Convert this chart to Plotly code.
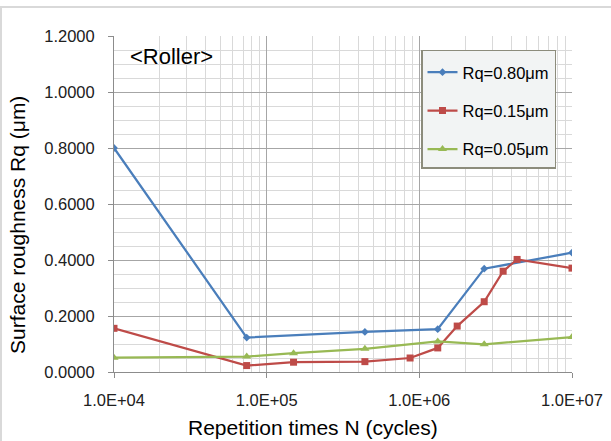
import plotly.graph_objects as go

# ---- data ----
n_080 = [1.0e4, 7.4e4, 4.4e5, 1.32e6, 2.66e6, 1.0e7]
rq_080 = [0.800, 0.123, 0.143, 0.153, 0.369, 0.426]

n_015 = [1.0e4, 7.4e4, 1.5e5, 4.4e5, 8.7e5, 1.32e6, 1.77e6, 2.66e6, 3.54e6, 4.37e6, 1.0e7]
rq_015 = [0.156, 0.023, 0.035, 0.037, 0.050, 0.086, 0.164, 0.251, 0.360, 0.402, 0.371]

n_005 = [1.0e4, 7.4e4, 1.5e5, 4.4e5, 1.32e6, 2.66e6, 1.0e7]
rq_005 = [0.051, 0.055, 0.067, 0.083, 0.109, 0.099, 0.125]

series_names = ["Rq=0.80μm", "Rq=0.15μm", "Rq=0.05μm"]
x_tickvals = [1e4, 1e5, 1e6, 1e7]
x_ticktext = ["1.0E+04", "1.0E+05", "1.0E+06", "1.0E+07"]

FONT = "Liberation Sans, Arial, sans-serif"
W, H = 611, 441
L, R, T, B = 114, 39, 36, 69
PW, PH = W - L - R, H - T - B


def px(x):
    return (x - L) / PW


def py(y):
    return (H - B - y) / PH


fig = go.Figure()
styles = [
    ("#4a7ebb", "diamond", 6),
    ("#be4b48", "square", 7),
    ("#98b954", "triangle-up", 8),
]
for i, (xs, ys) in enumerate([(n_080, rq_080), (n_015, rq_015), (n_005, rq_005)]):
    c, sym, sz = styles[i]
    fig.add_trace(go.Scatter(
        x=xs, y=ys, name=series_names[i], mode="lines+markers",
        legendgroup=f"g{i}",
        line=dict(color=c, width=2.25),
        marker=dict(color=c, symbol=sym, size=sz),
    ))

fig.update_layout(
    width=W, height=H,
    margin=dict(l=L, r=R, t=T, b=B, autoexpand=False),
    paper_bgcolor="white", plot_bgcolor="white",
    font=dict(family=FONT, color="#000000"),
    showlegend=True,
    legend=dict(
        x=px(421), y=py(49.5), xanchor="left", yanchor="top",
        bgcolor="#f2f4f4", bordercolor="#8c8c7c", borderwidth=1.5,
        font=dict(size=16.5, family=FONT, color="#000000"),
        title=dict(text=" ", font=dict(size=3)),
        tracegroupgap=14, itemwidth=30,
    ),
    xaxis=dict(
        type="log", range=[4, 7], automargin=False,
        tickvals=x_tickvals, ticktext=x_ticktext,
        tickfont=dict(size=16.5, color="#202020"),
        ticklabelstandoff=8,
        showgrid=True, gridcolor="#a6a6a6", gridwidth=1,
        minor=dict(dtick="D1", showgrid=True, gridcolor="#d9d9d9", ticks=""),
        showline=True, linecolor="#8c8c8c", linewidth=1,
        ticks="outside", ticklen=5, tickcolor="#8c8c8c",
        zeroline=False,
    ),
    yaxis=dict(
        range=[0, 1.2], dtick=0.2, tickformat=".4f", automargin=False,
        tickfont=dict(size=16.5, color="#202020"),
        ticklabelstandoff=10,
        showgrid=True, gridcolor="#a6a6a6", gridwidth=1,
        minor=dict(dtick=0.05, showgrid=True, gridcolor="#d9d9d9", ticks=""),
        showline=True, linecolor="#8c8c8c", linewidth=1,
        ticks="outside", ticklen=5, tickcolor="#8c8c8c",
        zeroline=False,
    ),
    annotations=[
        dict(text="&lt;Roller&gt;", x=px(128), y=py(56),
             xref="paper", yref="paper", xanchor="left", yanchor="middle",
             showarrow=False, font=dict(size=22, family=FONT, color="#000000")),
        dict(text="Repetition times N (cycles)", x=px(313), y=py(427),
             xref="paper", yref="paper", xanchor="center", yanchor="middle",
             showarrow=False, font=dict(size=21, family=FONT, color="#000000")),
        dict(text="Surface roughness Rq (μm)", x=px(17), y=py(225),
             xref="paper", yref="paper", xanchor="center", yanchor="middle",
             textangle=-90, showarrow=False,
             font=dict(size=21, family=FONT, color="#000000")),
    ],
    shapes=[
        dict(type="rect", xref="paper", yref="paper",
             x0=px(1), x1=px(640), y0=py(470), y1=py(7),
             line=dict(color="#d9d9d9", width=2), layer="below"),
    ],
)

fig.write_html("out.html", config={"displayModeBar": False},
               post_script="document.body.style.margin='0';")
